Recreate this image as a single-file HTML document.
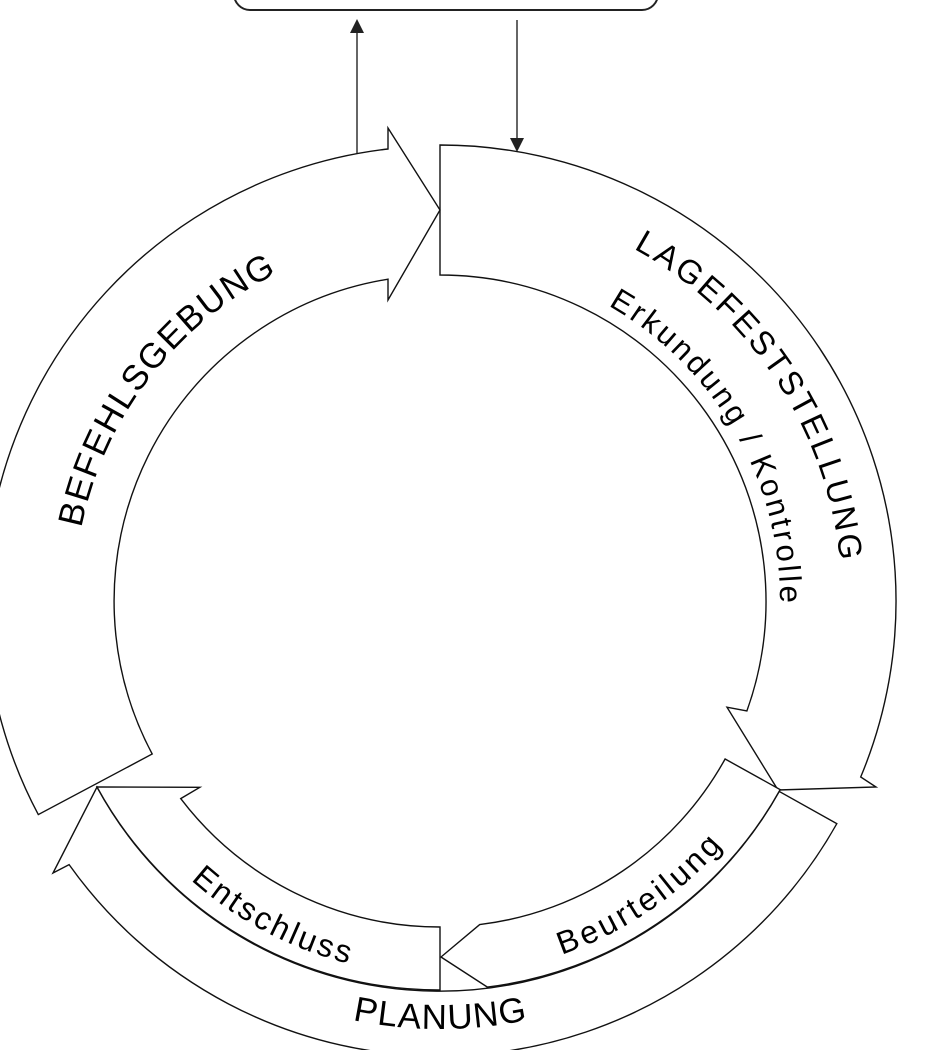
<!DOCTYPE html>
<html><head><meta charset="utf-8"><style>
html,body{margin:0;padding:0;background:#fff;}
svg{display:block;}
text{font-family:"Liberation Sans",Arial,sans-serif;fill:#000;}
</style></head><body>
<svg id="s" width="932" height="1050" viewBox="0 0 932 1050" xmlns="http://www.w3.org/2000/svg">
<defs>
<path id="tB" d=""/><path id="tL" d=""/><path id="tE" d=""/><path id="tN" d=""/><path id="tU" d=""/><path id="tP" d=""/>
</defs>
<rect x="234" y="-30" width="424" height="40" rx="16" fill="none" stroke="#222" stroke-width="2"/>
<line x1="357" y1="153" x2="357" y2="30" stroke="#333" stroke-width="1.5"/>
<polygon points="357,19 350,33 364,33" fill="#222"/>
<line x1="517" y1="20" x2="517" y2="140" stroke="#333" stroke-width="1.5"/>
<polygon points="510,138 524,138 517,152" fill="#222"/>
<g id="shapes" fill="#fff" stroke="#111" stroke-width="1.4" stroke-linejoin="miter"></g>
<text font-size="35"><textPath href="#tB" startOffset="50%" text-anchor="middle" textLength="332" lengthAdjust="spacing">BEFEHLSGEBUNG</textPath></text>
<text font-size="33"><textPath href="#tL" startOffset="50%" text-anchor="middle" textLength="389" lengthAdjust="spacing">LAGEFESTSTELLUNG</textPath></text>
<text font-size="31"><textPath href="#tE" startOffset="50%" text-anchor="middle" textLength="360" lengthAdjust="spacing" xml:space="preserve">Erkundung / Kontrolle</textPath></text>
<text font-size="32"><textPath href="#tN" startOffset="50%" text-anchor="middle" textLength="180" lengthAdjust="spacing">Entschluss</textPath></text>
<text font-size="32"><textPath href="#tU" startOffset="50%" text-anchor="middle" textLength="196" lengthAdjust="spacing">Beurteilung</textPath></text>
<text font-size="35"><textPath href="#tP" startOffset="50%" text-anchor="middle" textLength="176" lengthAdjust="spacing">PLANUNG</textPath></text>
</svg>
<script>
var cx=440,cy=601;
function P(r,t){var a=t*Math.PI/180;return [(cx+r*Math.sin(a)).toFixed(1),(cy-r*Math.cos(a)).toFixed(1)];}
function pt(p){return p[0]+' '+p[1];}
function A(r,t,sw){return ' A '+r+' '+r+' 0 0 '+sw+' '+pt(P(r,t));}
function L(x,y){return ' L '+x+' '+y;}
var shapes=[];
shapes.push('M '+pt(P(456,0))+A(456,112.7,1)+' L '+pt(P(474,113.1))+L(778,790)+' L '+pt(P(306,110.3))+' L '+pt(P(326,109.7))+A(326,0,0)+' Z');
shapes.push('M '+pt(P(455,242))+' A 455 455 0 0 1 388 149'+L(388,128)+L(440,210)+L(388,300)+L(388,279.2)+A(326,242,0)+' Z');
shapes.push('M '+pt(P(455,119.3))+A(455,234.6,1)+' L '+pt(P(473,234.9))+L(97,787)+A(389,119.3,0)+' Z');
shapes.push('M 440 990 A 389 389 0 0 1 97 787 L '+pt(P(304,232.2))+' L '+pt(P(326,232.7))+' A 326 326 0 0 0 440 927 Z');
shapes.push('M '+pt(P(389,119))+A(389,173,1)+L(441,957)+' L '+pt(P(326,173))+A(326,119,0)+' Z');
var g=document.getElementById('shapes');
shapes.forEach(function(d){var p=document.createElementNS('http://www.w3.org/2000/svg','path');p.setAttribute('d',d);g.appendChild(p);});
function arc(id,r,c,h,sw){var t1=sw?c-h:c+h,t2=sw?c+h:c-h;document.getElementById(id).setAttribute('d','M '+pt(P(r,t1))+' A '+r+' '+r+' 0 0 '+sw+' '+pt(P(r,t2)));}
arc('tB',366,307.5,50,1);
arc('tL',402,56.5,50,1);
arc('tE',340,60,50,1);
arc('tN',374,208,40,0);
arc('tU',374,146,40,0);
arc('tP',428,180,40,0);
</script>
</body></html>
